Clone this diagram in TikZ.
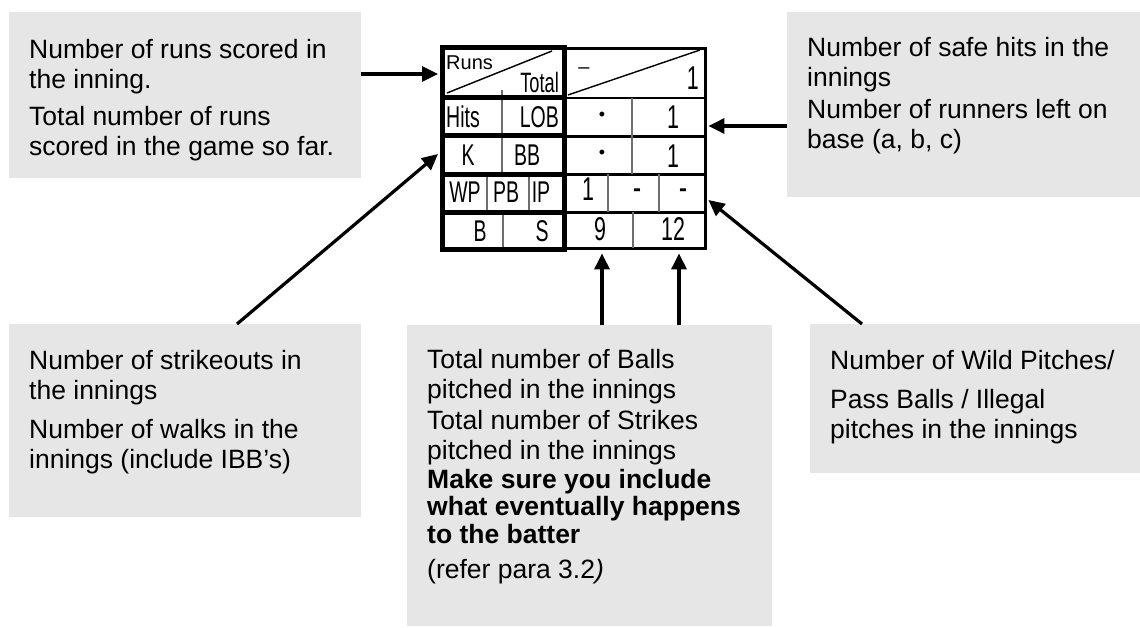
\documentclass[tikz,border=0pt]{standalone}
\usepackage{fontspec}
\setmainfont{Liberation Sans}
\newfontfamily\boxfont{Liberation Sans}
\newfontfamily\tabfont[FakeStretch=0.65]{Liberation Sans}
\usetikzlibrary{arrows.meta}
\definecolor{boxgray}{RGB}{230,230,230}
\definecolor{divgray}{RGB}{110,110,110}
\begin{document}
\begin{tikzpicture}[x=1pt,y=-1pt,
  gbox/.style={fill=boxgray, draw=none, anchor=north west, inner sep=0pt},
  txt/.style={anchor=north west, inner sep=0pt, align=left, font=\boxfont\fontsize{26.5}{30}\selectfont},
  arr/.style={line width=3.2pt, -{Triangle[length=16pt,width=15pt]}},
  heavy/.style={line width=5pt},
  grid/.style={line width=2.5pt},
  divider/.style={line width=1.2pt, draw=divgray},
  diag/.style={line width=1.4pt},
  cell/.style={inner sep=0pt, font=\tabfont\fontsize{30}{30}\selectfont},
  num/.style={inner sep=0pt, font=\tabfont\fontsize{33}{33}\selectfont}
]
\useasboundingbox (0,0) rectangle (1140,628);

% grey boxes
\node[gbox, minimum width=352pt, minimum height=166pt] (b1) at (9,12) {};
\node[gbox, minimum width=353pt, minimum height=185pt] (b2) at (787,12) {};
\node[gbox, minimum width=352pt, minimum height=193pt] (b3) at (9,324) {};
\node[gbox, minimum width=365pt, minimum height=301pt] (b4) at (407,325) {};
\node[gbox, minimum width=330pt, minimum height=149pt] (b5) at (810,324) {};

% texts
\node[txt] (t1) at (29,39) {Number of runs scored in\\the inning.\\[7pt]Total number of runs\\scored in the game so far.};
\node[txt] (t2) at (807,37) {Number of safe hits in the\\innings\\[2pt]Number of runners left on\\base (a, b, c)};
\node[txt] (t3) at (29,350) {Number of strikeouts in\\the innings\\[9pt]Number of walks in the\\innings (include IBB’s)};
\node[txt] (t4) at (427,349) {Total number of Balls\\pitched in the innings\\[1pt]Total number of Strikes\\pitched in the innings\\[-1pt]\textbf{Make sure you include}\\[-3pt]\textbf{what eventually happens}\\[-2pt]\textbf{to the batter}\\[5pt](refer para 3.2\textit{)}};
\node[txt] (t5) at (830,350) {Number of Wild Pitches/\\[9pt]Pass Balls / Illegal\\pitches in the innings};

% table frame (named area)
\node[inner sep=0pt, anchor=north west, minimum width=270pt, minimum height=208pt] (tbl) at (438,45) {};

% right section
\draw[grid] (565,48.5) rectangle (705.5,248.5);
\foreach \yy in {98,136.5,174.5,212.5} \draw[grid] (565,\yy) -- (705.5,\yy);
\draw[divider] (632,98) -- (632,174.5);
\draw[divider] (608,174.5) -- (608,212.5);
\draw[divider] (659,174.5) -- (659,212.5);
\draw[divider] (633,212.5) -- (633,248.5);
\draw[diag] (568,95) -- (700,50);

% left section
\draw[divider] (502,90) -- (502,174.5);
\draw[divider] (487,174.5) -- (487,212.5);
\draw[divider] (529,174.5) -- (529,212.5);
\draw[divider] (503,212.5) -- (503,249.5);
\draw[diag] (447,93) -- (552,51);
\draw[heavy] (442.5,47.5) rectangle (564.5,249.5);
\foreach \yy in {97.5,135.5,174.5,212.5} \draw[heavy] (442.5,\yy) -- (564.5,\yy);

% table texts
\node[cell, anchor=west, font=\fontsize{20}{20}\selectfont] (runs) at (446,63) {Runs};
\node[cell, anchor=east, font=\tabfont\fontsize{28}{28}\selectfont] (total) at (559,82) {Total};
\node[cell, font=\fontsize{20}{20}\selectfont] (dash0) at (584,71) {–};
\node[num, anchor=east] (tot1) at (699,78) {1};
\node[cell, anchor=west] (hits) at (446,117) {Hits};
\node[cell, anchor=east] (lob) at (559,117) {LOB};
\node[cell, font=\fontsize{18}{18}\selectfont] (dot1) at (602,116) {•};
\node[num] (lob1) at (673,117) {1};
\node[cell] (k) at (468,155) {K};
\node[cell] (bb) at (527,155) {BB};
\node[cell, font=\fontsize{18}{18}\selectfont] (dot2) at (602,154) {•};
\node[num] (bb1) at (673,156) {1};
\node[cell] (wp) at (465,192) {WP};
\node[cell] (pb) at (506,192) {PB};
\node[cell] (ip) at (541,192) {IP};
\node[num] (wp1) at (588,189) {1};
\node[cell, font=\bfseries\fontsize{24}{24}\selectfont] (pb1) at (637,193) {-};
\node[cell, font=\bfseries\fontsize{24}{24}\selectfont] (ip1) at (683,193) {-};
\node[cell] (bl) at (480,231) {B};
\node[cell] (sl) at (542,231) {S};
\node[num] (b9) at (600,229) {9};
\node[num] (s12) at (673,229) {12};

% connectors
\draw[arr] (b1.east |- 0,74) -- (tbl.west |- 0,74);
\draw[arr] (b2.west |- 0,126) -- (tbl.east |- 0,126);
\draw[arr] (b3.north -| 237,0) -- (tbl.west |- 0,154);
\draw[arr] (b5.north -| 862,0) -- (tbl.east |- 0,200);
\draw[arr] (b4.north -| 602,0) -- (tbl.south -| 602,0);
\draw[arr] (b4.north -| 679,0) -- (tbl.south -| 679,0);
\end{tikzpicture}
\end{document}
